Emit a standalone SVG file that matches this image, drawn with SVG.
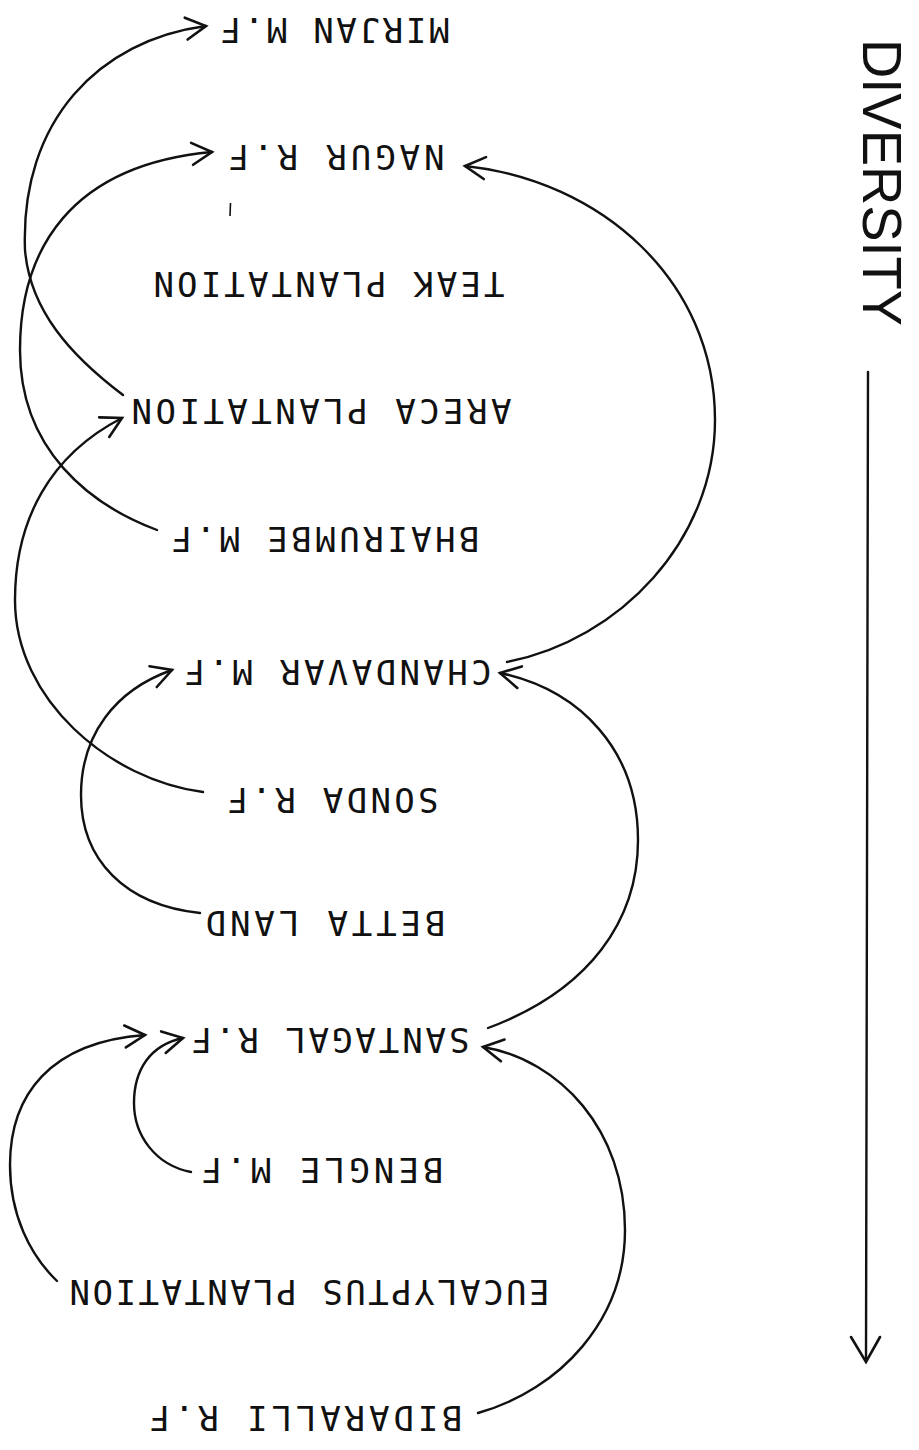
<svg xmlns="http://www.w3.org/2000/svg" width="919" height="1450" viewBox="0 0 919 1450">
  <defs>
    <style>
      .lbl { font-family: "DejaVu Sans Mono", "Liberation Mono", monospace; font-size: 34px; fill: #111; }
      .axis-lbl { font-family: "Liberation Sans", Arial, sans-serif; font-size: 56px; fill: #111; }
      .link { fill: none; stroke: #111; stroke-width: 2.4; stroke-linecap: round; }
      .tip { fill: none; stroke: #111; stroke-width: 2.6; stroke-linecap: round; stroke-linejoin: miter; }
    </style>
    <marker id="arrow" viewBox="-26 -16 30 32" refX="0" refY="0" markerWidth="30" markerHeight="32" markerUnits="userSpaceOnUse" orient="auto" overflow="visible">
      <path class="tip" d="M-20,-11 L0,0 L-20,11"/>
    </marker>
  </defs>
  <rect width="919" height="1450" fill="#fff"/>

  <!-- site labels, printed upside down -->
  <g id="mirjan"><text class="lbl" x="335" y="42.4" text-anchor="middle" textLength="229" lengthAdjust="spacing" transform="rotate(180 335 30)">MIRJAN M.F</text></g>
  <g id="nagur"><text class="lbl" x="336.5" y="169.4" text-anchor="middle" textLength="216" lengthAdjust="spacing" transform="rotate(180 336.5 157)">NAGUR R.F</text></g>
  <g id="teak"><text class="lbl" x="329" y="296.4" text-anchor="middle" textLength="351" lengthAdjust="spacing" transform="rotate(180 329 284)">TEAK PLANTATION</text></g>
  <g id="areca"><text class="lbl" x="321.5" y="423.4" text-anchor="middle" textLength="380" lengthAdjust="spacing" transform="rotate(180 321.5 411)">ARECA PLANTATION</text></g>
  <g id="bhairumbe"><text class="lbl" x="325.5" y="551.4" text-anchor="middle" textLength="308" lengthAdjust="spacing" transform="rotate(180 325.5 539)">BHAIRUMBE M.F</text></g>
  <g id="chandavar"><text class="lbl" x="338" y="684.4" text-anchor="middle" textLength="307" lengthAdjust="spacing" transform="rotate(180 338 672)">CHANDAVAR M.F</text></g>
  <g id="sonda"><text class="lbl" x="333" y="812.4" text-anchor="middle" textLength="211" lengthAdjust="spacing" transform="rotate(180 333 800)">SONDA R.F</text></g>
  <g id="betta"><text class="lbl" x="325.5" y="935.4" text-anchor="middle" textLength="240" lengthAdjust="spacing" transform="rotate(180 325.5 923)">BETTA LAND</text></g>
  <g id="santagal"><text class="lbl" x="330.5" y="1052.4" text-anchor="middle" textLength="278" lengthAdjust="spacing" transform="rotate(180 330.5 1040)">SANTAGAL R.F</text></g>
  <g id="bengle"><text class="lbl" x="322.5" y="1182.4" text-anchor="middle" textLength="242" lengthAdjust="spacing" transform="rotate(180 322.5 1170)">BENGLE M.F</text></g>
  <g id="eucalyptus"><text class="lbl" x="309.5" y="1304.4" text-anchor="middle" textLength="480" lengthAdjust="spacing" transform="rotate(180 309.5 1292)">EUCALYPTUS PLANTATION</text></g>
  <g id="bidaralli"><text class="lbl" x="306" y="1430.4" text-anchor="middle" textLength="313" lengthAdjust="spacing" transform="rotate(180 306 1418)">BIDARALLI R.F</text></g>

  <!-- diversity axis -->
  <g id="diversity">
    <text class="axis-lbl" x="0" y="0" textLength="287" lengthAdjust="spacingAndGlyphs" transform="translate(863 39) rotate(90)">DIVERSITY</text>
    <line class="link" x1="868" y1="372" x2="866" y2="1361" stroke-width="2.8"/>
    <path class="tip" d="M851,1337 L866,1362 L880,1337" stroke-width="3"/>
  </g>

  <!-- links between sites -->
  <g id="connectors">
    <path class="link" marker-end="url(#arrow)" d="M123,395 C70,355 30,310 25,250 C20,120 100,40 206,26"/>
    <path class="link" marker-end="url(#arrow)" d="M157,530 C90,505 20,450 20,350 C20,250 70,165 212,152"/>
    <path class="link" marker-end="url(#arrow)" d="M507,662 C620,640 715,540 715,420 C715,280 600,180 465,166"/>
    <path class="link" marker-end="url(#arrow)" d="M203,792 C110,780 15,700 15,600 C15,520 50,455 122,418"/>
    <path class="link" marker-end="url(#arrow)" d="M200,913 C125,905 81,860 81,795 C81,735 115,690 172,670"/>
    <path class="link" marker-end="url(#arrow)" d="M488,1028 C590,990 638,920 638,840 C638,750 580,690 500,673"/>
    <path class="link" marker-end="url(#arrow)" d="M478,1413 C560,1390 625,1320 625,1230 C625,1130 560,1060 483,1047"/>
    <path class="link" marker-end="url(#arrow)" d="M191,1172 C155,1165 134,1135 134,1103 C134,1070 150,1045 183,1038"/>
    <path class="link" marker-end="url(#arrow)" d="M57,1281 C30,1255 10,1215 10,1165 C10,1095 50,1042 145,1035"/>
  </g>

  <!-- small stray tick below NAGUR -->
  <line x1="230.5" y1="203" x2="230" y2="216" stroke="#111" stroke-width="1.6"/>
</svg>
